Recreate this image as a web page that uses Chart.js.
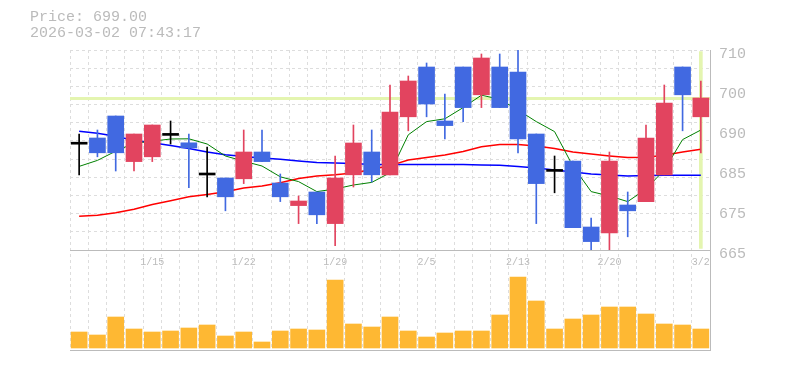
<!DOCTYPE html>
<html>
<head>
<meta charset="utf-8">
<script src="https://cdn.jsdelivr.net/npm/chart.js@4.4.1/dist/chart.umd.min.js"></script>
<style>
  body { margin: 0; background: #fff; }
  #wrap { position: relative; width: 785px; height: 370px; }
  #hdr { position: absolute; left: 30px; top: 10px; font: 15px/15.6px 'Liberation Mono', monospace; color: #bbb; white-space: pre; }
</style>
</head>
<body>
<div id="wrap">
  <canvas id="stockChart"></canvas>
  <div id="hdr">Price: 699.00
2026-03-02 07:43:17</div>
</div>
<script>
const dates = ['1/8', '1/9', '1/13', '1/14', '1/15', '1/16', '1/19', '1/20', '1/21', '1/22',
    '1/23', '1/26', '1/27', '1/28', '1/29', '1/30', '2/2', '2/3', '2/4', '2/5',
    '2/6', '2/9', '2/10', '2/12', '2/13', '2/16', '2/17', '2/18', '2/19', '2/20',
    '2/24', '2/25', '2/26', '2/27', '3/2'];
const shownDates = ['1/15', '1/22', '1/29', '2/5', '2/13', '2/20', '3/2'];

const opens  = [687.7, 689.0, 694.5, 683.1, 684.3, 689.9, 687.8, 680.0, 679.0, 678.8,
    685.5, 677.75, 672.1, 675.5, 667.6, 679.8, 685.5, 679.8, 694.3, 706.75,
    693.25, 706.75, 699.8, 706.75, 705.5, 690.0, 680.9, 683.25, 666.75, 665.3,
    672.25, 673.1, 679.8, 706.75, 694.3];
const highs  = [690.0, 691.0, 694.5, 690.0, 692.25, 693.25, 690.0, 686.7, 679.0, 691.0,
    691.0, 680.0, 674.5, 675.5, 684.5, 692.25, 691.0, 702.25, 704.5, 707.75,
    700.0, 706.75, 710.0, 710.0, 711.0, 690.0, 684.5, 683.25, 669.0, 685.5,
    675.5, 692.25, 702.25, 706.75, 703.25];
const lows   = [679.75, 684.3, 680.75, 680.75, 683.1, 687.5, 676.6, 674.3, 670.8, 677.6,
    683.1, 673.1, 667.6, 667.6, 662.1, 676.75, 678.0, 679.8, 690.8, 694.3,
    688.8, 693.1, 696.6, 696.6, 685.3, 667.6, 675.3, 666.6, 661.0, 661.0,
    664.3, 673.1, 679.8, 690.8, 685.3];
const closes = [687.7, 685.3, 685.3, 690.0, 692.25, 689.9, 686.5, 680.0, 674.3, 685.5,
    683.1, 674.3, 673.25, 669.8, 679.0, 687.75, 679.8, 695.5, 703.25, 697.5,
    692.1, 696.6, 709.0, 696.6, 688.8, 677.6, 680.9, 666.6, 663.1, 683.25,
    670.8, 689.0, 697.75, 699.8, 699.0];

const maShort = [681.9, 683.4, 685.7, 687.7, 688.2, 688.75, 688.8, 687.5, 684.5, 683.2,
    682.0, 679.3, 678.1, 675.6, 676.25, 677.25, 677.9, 680.3, 689.8, 693.1,
    693.8, 696.6, 699.7, 698.7, 696.0, 693.1, 690.6, 682.0, 675.6, 674.5,
    673.1, 676.25, 681.0, 688.6, 691.0];
const maMid = [690.7, 690.2, 689.45, 688.4, 687.8, 687.1, 686.4, 685.5, 684.8, 684.35,
    684.0, 683.7, 683.25, 682.9, 682.75, 682.6, 682.4, 682.4, 682.4, 682.4,
    682.4, 682.4, 682.25, 682.2, 681.9, 681.5, 681.0, 680.5, 680.0, 679.75,
    679.5, 679.6, 679.7, 679.7, 679.7];
const maLong = [669.45, 669.7, 670.3, 671.2, 672.4, 673.3, 674.3, 674.9, 675.55, 676.5,
    677.0, 677.8, 678.9, 679.5, 679.8, 680.25, 681.1, 682.1, 683.5, 684.1,
    684.75, 685.6, 686.8, 687.4, 687.4, 687.0, 686.4, 685.5, 685.0, 684.5,
    684.1, 684.2, 684.7, 685.5, 686.2];

const volumes = [1600, 1300, 3100, 1900, 1600, 1700, 2000, 2300, 1200, 1600,
    600, 1700, 1900, 1800, 6800, 2400, 2100, 3100, 1700, 1100,
    1500, 1700, 1700, 3300, 7100, 4700, 1900, 2900, 3300, 4100,
    4100, 3400, 2400, 2300, 1900];

const priceTickValues = [710, 700, 690, 680, 670, 660];
const priceTickLabels = ['710', '700', '690', '685', '675', '665'];

const PRICE_MIN = 661, PRICE_MAX = 711;
const VOL_MIN = -200, VOL_MAX = 9800;
const UP = '#e2445f', DOWN = '#4169e1', FLAT = '#000000';
const GRID = '#dddddd', FRAME = '#bbbbbb', MARK = '#e4f5b0';
const MONO = "'Liberation Mono', monospace";

const lastIdx = closes.length - 1;
const lastPrice = closes[lastIdx];

const candleColors = opens.map((o, i) => closes[i] > o ? UP : (closes[i] < o ? DOWN : FLAT));
const bodies = opens.map((o, i) => o === closes[i] ? [o - 0.25, o + 0.25] : [o, closes[i]]);
const wicks = lows.map((l, i) => [l, highs[i]]);
const cursor = dates.map((d, i) => i === lastIdx ? [PRICE_MIN + 0.4, PRICE_MAX - 0.4] : null);

const lineDs = (data, color, width) => ({
    type: 'line', data: data, yAxisID: 'price', borderColor: color, borderWidth: width,
    pointRadius: 0, fill: false, tension: 0
});

const ctx = document.getElementById('stockChart').getContext('2d');
new Chart(ctx, {
    type: 'bar',
    data: {
        labels: dates,
        datasets: [
            { data: bodies, yAxisID: 'price', backgroundColor: candleColors, barThickness: 16, grouped: false, borderWidth: 0 },
            { data: wicks, yAxisID: 'price', backgroundColor: candleColors, barThickness: 1, grouped: false, borderWidth: 0 },
            lineDs(maShort, '#008000', 1),
            lineDs(maLong, '#ff0000', 1.5),
            lineDs(maMid, '#0000ff', 1.5),
            { data: cursor, yAxisID: 'price', backgroundColor: MARK, barThickness: 3, grouped: false, borderWidth: 0 },
            { data: volumes, yAxisID: 'vol', backgroundColor: '#feb833', barThickness: 16, grouped: false, borderWidth: 0 }
        ]
    },
    options: {
        responsive: true,
        maintainAspectRatio: false,
        animation: false,
        events: [],
        layout: { padding: { left: 70, top: 50, right: 0, bottom: 20 } },
        plugins: { legend: { display: false }, tooltip: { enabled: false } },
        scales: {
            x: {
                type: 'category',
                offset: true,
                position: { price: PRICE_MIN },
                grid: { offset: true, color: GRID, drawTicks: false },
                border: { display: true, color: FRAME, dash: [3, 3] },
                ticks: {
                    autoSkip: false, maxRotation: 0, padding: 6, color: '#bbb',
                    font: { family: MONO, size: 10 },
                    callback: (v) => shownDates.includes(dates[v]) ? dates[v] : ''
                }
            },
            price: {
                type: 'linear',
                position: 'right',
                stack: 'pv',
                stackWeight: 2,
                min: PRICE_MIN,
                max: PRICE_MAX,
                afterFit: (s) => { s.width = 75; },
                afterBuildTicks: (axis) => {
                    const t = [];
                    for (let k = 0; k < 11; k++) {
                        t.push({ value: PRICE_MAX - k * (PRICE_MAX - PRICE_MIN) / 11, kind: 'grid' });
                    }
                    priceTickValues.forEach((v, i) => t.push({ value: v, kind: 'label', text: priceTickLabels[i] }));
                    t.push({ value: lastPrice, kind: 'price' });
                    axis.ticks = t;
                },
                grid: {
                    drawTicks: false,
                    color: (c) => !c.tick ? GRID : (c.tick.kind === 'grid' ? GRID : (c.tick.kind === 'price' ? MARK : 'rgba(0,0,0,0)')),
                    lineWidth: (c) => c.tick && c.tick.kind === 'price' ? 3 : 1
                },
                border: {
                    display: true, color: FRAME,
                    dash: (c) => c.tick && c.tick.kind === 'grid' ? [3, 3] : []
                },
                ticks: {
                    autoSkip: false, padding: 9, color: '#bbb',
                    font: { family: MONO, size: 15 },
                    callback: (v, i, ticks) => ticks[i].text || ''
                }
            },
            vol: {
                type: 'linear',
                position: 'right',
                stack: 'pv',
                stackWeight: 1,
                min: VOL_MIN,
                max: VOL_MAX,
                afterFit: (s) => { s.width = 75; },
                afterBuildTicks: (axis) => { axis.ticks = [{ value: VOL_MIN }]; },
                grid: { drawTicks: false, color: FRAME },
                border: { display: true, color: FRAME },
                ticks: { display: false }
            }
        }
    }
});
</script>
</body>
</html>
